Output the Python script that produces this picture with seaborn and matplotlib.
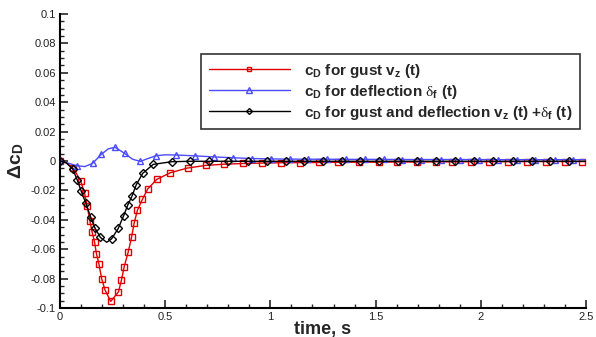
import matplotlib
matplotlib.use('Agg')
import matplotlib.pyplot as plt
from matplotlib.lines import Line2D
from matplotlib.ticker import MultipleLocator, FuncFormatter
import pandas as pd
import seaborn as sns

# values (time in s, delta cD)
# gust v_z(t): marker points
gust_t = [0, 0.063, 0.098, 0.117, 0.129, 0.142, 0.152, 0.164, 0.173, 0.185, 0.198, 0.214,
          0.241, 0.278, 0.292, 0.305, 0.324, 0.340, 0.352, 0.368, 0.392, 0.417, 0.460, 0.524,
          0.606, 0.692, 0.778, 0.869, 0.959, 1.049, 1.14, 1.23, 1.321, 1.423, 1.514, 1.6,
          1.695, 1.785, 1.863, 1.953, 2.041, 2.131, 2.22, 2.308, 2.398, 2.481]
gust_cd = [0, -0.005, -0.0134, -0.022, -0.0306, -0.0406, -0.048, -0.055, -0.063, -0.070, -0.080, -0.0878,
           -0.0955, -0.089, -0.081, -0.072, -0.062, -0.052, -0.0425, -0.0335, -0.026, -0.019, -0.0125, -0.008,
           -0.0048, -0.003, -0.0022, -0.0017, -0.0014, -0.0012, -0.0011, -0.001, -0.0009, -0.0008, -0.0008, -0.0007,
           -0.0007, -0.0006, -0.0006, -0.0005, -0.0005, -0.0005, -0.0004, -0.0004, -0.0004, -0.0004]
gust_extra_t = [0.03, 2.5]
gust_extra_cd = [-0.0012, -0.0004]

# deflection delta_f(t)
defl_t = [0, 0.079, 0.155, 0.196, 0.262, 0.307, 0.382, 0.457, 0.55, 0.64, 0.731, 0.822, 0.912,
          1.002, 1.093, 1.179, 1.27, 1.36, 1.45, 1.538, 1.627, 1.717, 1.81, 1.902, 1.992, 2.083,
          2.17, 2.259, 2.351, 2.437]
defl_cd = [0, -0.0032, -0.0016, 0.0045, 0.0093, 0.0052, -0.0003, 0.0036, 0.0041, 0.0035, 0.0028, 0.0022, 0.0017,
           0.0014, 0.0013, 0.0012, 0.0012, 0.0011, 0.0011, 0.0011, 0.001, 0.001, 0.001, 0.001, 0.001, 0.0009,
           0.0009, 0.0009, 0.0009, 0.0009]
defl_extra_t = [0.04, 0.118, 0.23, 0.345, 0.42, 0.5, 2.5]
defl_extra_cd = [-0.0015, -0.0038, 0.0083, 0.0012, 0.0018, 0.0042, 0.0009]

# gust and deflection v_z(t) + delta_f(t)
both_t = [0, 0.06, 0.082, 0.100, 0.123, 0.145, 0.167, 0.192, 0.245, 0.277, 0.302, 0.322, 0.343,
          0.362, 0.393, 0.443, 0.530, 0.618, 0.708, 0.799, 0.892, 0.983, 1.072, 1.16, 1.25, 1.34,
          1.428, 1.517, 1.607, 1.695, 1.785, 1.879, 1.968, 2.059, 2.151, 2.241, 2.33, 2.421]
both_cd = [0, -0.0054, -0.0129, -0.0202, -0.0288, -0.0379, -0.0458, -0.052, -0.053, -0.0458, -0.0374, -0.030, -0.0236,
           -0.0163, -0.0084, -0.0023, -0.0005, -0.0002, -0.0002, -0.0002, -0.0002, -0.0002, -0.0002, -0.0002, -0.0002, -0.0002,
           -0.0002, -0.0002, -0.0002, -0.0002, -0.0002, -0.0002, -0.0002, -0.0002, -0.0002, -0.0002, -0.0002, -0.0002]
both_extra_t = [0.03, 0.222, 2.5]
both_extra_cd = [-0.0013, -0.0553, -0.0002]

labels = [r'$\mathbf{c_D}$ for gust $\mathbf{v_z}$ (t)',
          r'$\mathbf{c_D}$ for deflection $\delta_\mathbf{f}$ (t)',
          r'$\mathbf{c_D}$ for gust and deflection $\mathbf{v_z}$ (t) +$\delta_\mathbf{f}$ (t)']

sns.set_style('ticks')
plt.rcParams['font.family'] = ['Liberation Sans', 'DejaVu Sans']
plt.rcParams['mathtext.fontset'] = 'custom'
plt.rcParams['mathtext.rm'] = 'Liberation Serif'
plt.rcParams['mathtext.bf'] = 'Liberation Sans:bold'
plt.rcParams['mathtext.it'] = 'Liberation Serif'

fig = plt.figure(figsize=(5.96, 3.37), dpi=100)
ax = fig.add_axes([60 / 596, 1 - 308 / 337, 526 / 596, 294 / 337])

series = [
    (gust_t, gust_cd, gust_extra_t, gust_extra_cd, '#e00000', 's', 4.4),
    (defl_t, defl_cd, defl_extra_t, defl_extra_cd, '#4b4bff', '^', 4.8),
    (both_t, both_cd, both_extra_t, both_extra_cd, 'black', 'D', 4.0),
]
handles = []
for (t, cd, et, ecd, col, mk, ms), lab in zip(series, labels):
    line = pd.DataFrame({'t': t + et, 'cd': cd + ecd}).sort_values('t')
    sns.lineplot(data=line, x='t', y='cd', color=col, lw=1.0, sort=False,
                 estimator=None, ax=ax)
    ax.plot(t, cd, ls='none', marker=mk, ms=ms, mfc='none', mec=col, mew=1.0)
    handles.append(Line2D([], [], color=col, lw=1.0, marker=mk, ms=ms - 1.0,
                          mfc='none', mec=col, mew=1.0, label=lab))

ax.set_xlim(0, 2.5)
ax.set_ylim(-0.1, 0.1)
ax.xaxis.set_major_locator(MultipleLocator(0.5))
ax.xaxis.set_minor_locator(MultipleLocator(0.1))
ax.yaxis.set_major_locator(MultipleLocator(0.02))
ax.yaxis.set_minor_locator(MultipleLocator(0.005))
fmt = FuncFormatter(lambda v, p: '0' if abs(v) < 1e-9 else f'{round(v, 3):g}')
ax.xaxis.set_major_formatter(fmt)
ax.yaxis.set_major_formatter(fmt)
ax.tick_params(which='major', direction='in', length=6, width=1.2, labelsize=8,
               labelcolor='#222222', pad=3)
ax.tick_params(which='minor', direction='in', length=3, width=1.0)
sns.despine(ax=ax)
for s in ['left', 'bottom']:
    ax.spines[s].set_linewidth(1.5)
    ax.spines[s].set_color('black')

ax.set_xlabel('time, s', fontsize=13, fontweight='bold', labelpad=-1)
ax.set_ylabel(r'Δc$_\mathbf{D}$', fontsize=14, fontweight='bold', labelpad=3)

leg = ax.legend(handles=handles, loc='upper right', bbox_to_anchor=(0.988, 0.864),
                borderaxespad=0, fontsize=11, frameon=True, fancybox=False,
                handlelength=5.3, handletextpad=0.9, labelspacing=0.2,
                borderpad=0.5, numpoints=1)
leg.get_frame().set_edgecolor('black')
leg.get_frame().set_linewidth(1.2)
for txt in leg.get_texts():
    txt.set_fontweight('bold')

fig.savefig('out.png', dpi=100)
